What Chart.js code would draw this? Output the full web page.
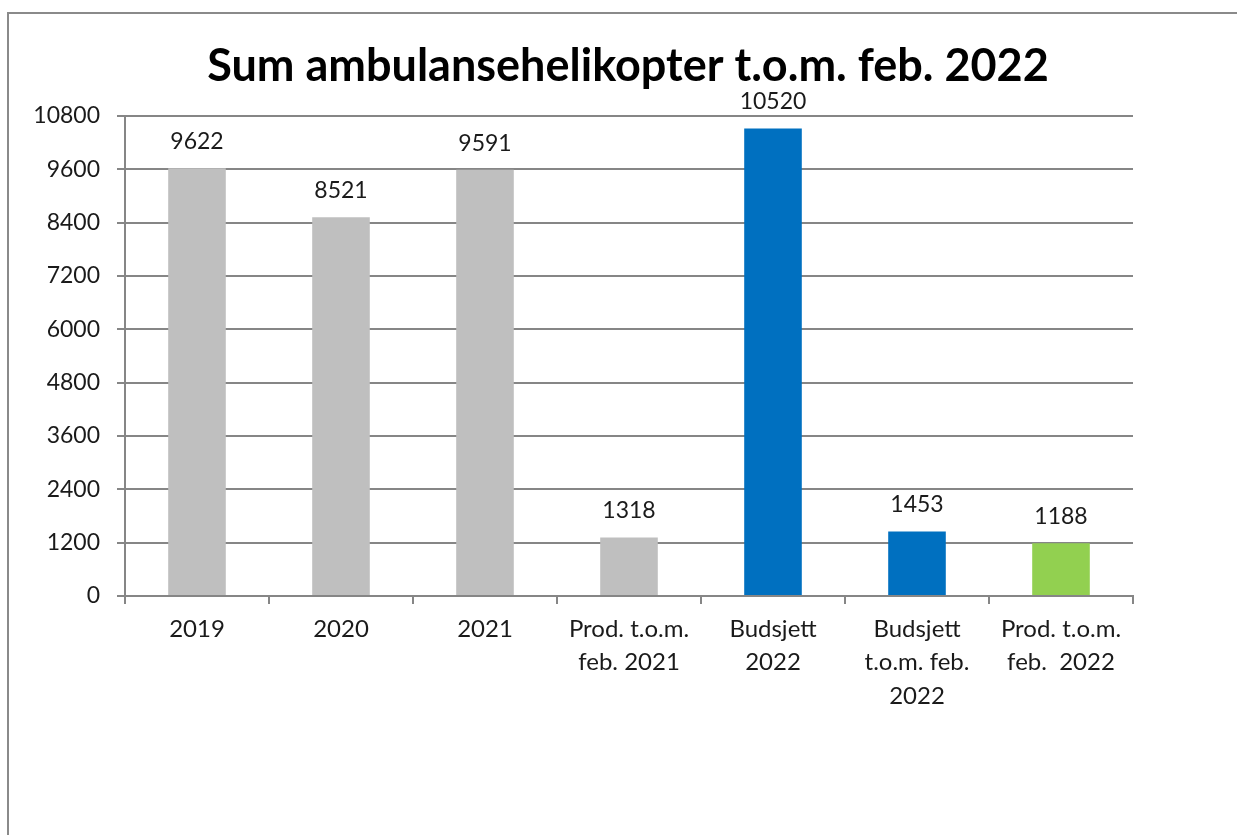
<!DOCTYPE html>
<html>
<head>
<meta charset="utf-8">
<script src="https://cdn.jsdelivr.net/npm/chart.js@4"></script>
<style>
  html, body { margin: 0; padding: 0; background: #fff; overflow: hidden; }
  #frame { position: absolute; left: 7px; top: 12px; width: 1240px; height: 900px;
           border-left: 2px solid #8a8a8a; border-top: 2px solid #8a8a8a; }
  #wrap { position: absolute; left: 0; top: 0; width: 1237px; height: 835px; }
</style>
</head>
<body>
<div id="frame"></div>
<div id="wrap"><canvas id="chart"></canvas></div>
<script>
// Kategorier og verdier
const categories = [
  '2019',
  '2020',
  '2021',
  ['Prod. t.o.m.', 'feb. 2021'],
  ['Budsjett', '2022'],
  ['Budsjett', 't.o.m. feb.', '2022'],
  ['Prod. t.o.m.', 'feb.  2022']
];
const values = [9622, 8521, 9591, 1318, 10520, 1453, 1188];
const barColors = ['#bfbfbf', '#bfbfbf', '#bfbfbf', '#bfbfbf', '#0070c0', '#0070c0', '#92d050'];
const yTicks = [0, 1200, 2400, 3600, 4800, 6000, 7200, 8400, 9600, 10800];
const titleText = 'Sum ambulansehelikopter t.o.m. feb. 2022';

const FONT = 'Lato, "Open Sans", sans-serif';

// Verdier over søylene + tittel
const labelsPlugin = {
  id: 'labels',
  afterDatasetsDraw(chart) {
    const ctx = chart.ctx;
    const meta = chart.getDatasetMeta(0);
    ctx.save();
    ctx.fillStyle = '#1a1a1a';
    ctx.font = '23px ' + FONT;
    ctx.textAlign = 'center';
    ctx.textBaseline = 'alphabetic';
    meta.data.forEach((bar, i) => {
      ctx.fillText(String(values[i]), bar.x, bar.y - 19);
    });
    ctx.font = 'bold 45px ' + FONT;
    ctx.fillStyle = '#000';
    ctx.textBaseline = 'middle';
    ctx.fillText(titleText, 628, 66);
    ctx.restore();
  }
};

new Chart(document.getElementById('chart'), {
  type: 'bar',
  data: {
    labels: categories,
    datasets: [{
      data: values,
      backgroundColor: barColors,
      categoryPercentage: 1,
      barPercentage: 0.4
    }]
  },
  options: {
    responsive: true,
    maintainAspectRatio: false,
    animation: false,
    layout: { padding: { left: 0, right: 104, top: 116, bottom: 99 } },
    plugins: { legend: { display: false }, tooltip: { enabled: false }, title: { display: false } },
    scales: {
      x: {
        afterFit(scale) { scale.height = 140; },
        grid: { offset: true, drawOnChartArea: false, drawTicks: true, tickLength: 8, color: '#868686', lineWidth: 2 },
        border: { color: '#868686', width: 2 },
        ticks: { color: '#1a1a1a', font: { family: FONT, size: 24, lineHeight: 1.38 }, padding: 9, maxRotation: 0, autoSkip: false }
      },
      y: {
        min: 0,
        max: 10800,
        afterFit(scale) { scale.width = 125; },
        afterBuildTicks(scale) { scale.ticks = yTicks.map(v => ({ value: v })); },
        grid: { color: '#868686', lineWidth: 2, drawTicks: true, tickLength: 8 },
        border: { color: '#868686', width: 2 },
        ticks: { color: '#1a1a1a', font: { family: FONT, size: 23 }, padding: 17, callback: v => String(v) }
      }
    }
  },
  plugins: [labelsPlugin]
});
</script>
</body>
</html>
